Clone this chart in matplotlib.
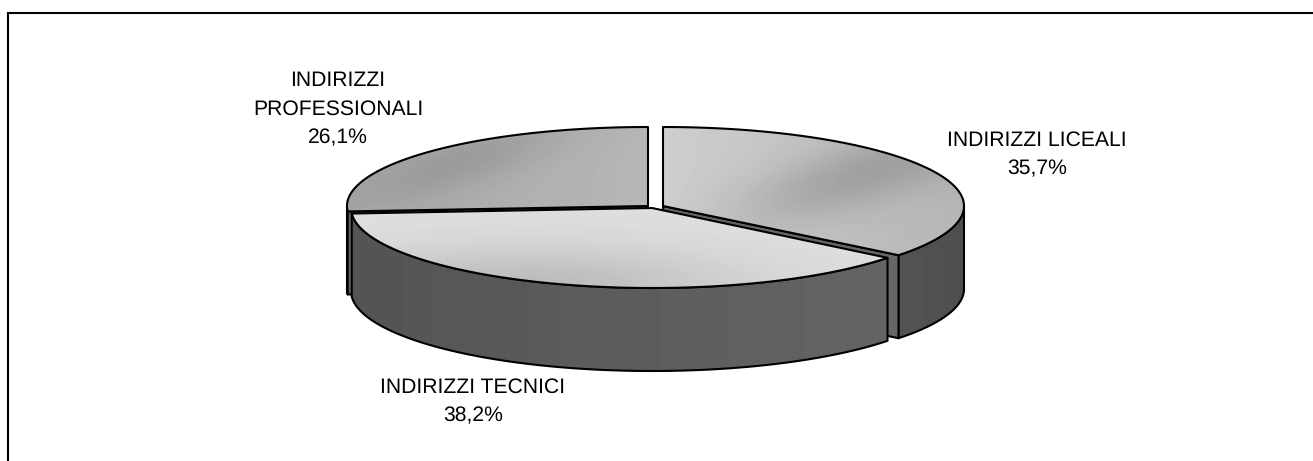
import numpy as np
import matplotlib
matplotlib.use("Agg")
import matplotlib.pyplot as plt
from matplotlib.patches import Polygon

# Dati
labels = ["INDIRIZZI LICEALI", "INDIRIZZI TECNICI", "INDIRIZZI\nPROFESSIONALI"]
shares = [35.7, 38.2, 26.1]

plt.rcParams["font.family"] = ["Liberation Sans", "DejaVu Sans"]
plt.rcParams["text.hinting"] = "no_hinting"

W, H = 1313, 461
fig = plt.figure(figsize=(W / 100, H / 100), dpi=100, facecolor="white")
ax = fig.add_axes([0, 0, 1, 1])
ax.set_xlim(0, W)
ax.set_ylim(H, 0)
ax.axis("off")

# Cornice: solo sinistra e alto
ax.plot([8, 8, W], [H, 13, 13], color="black", lw=1.5, solid_joinstyle="miter", zorder=1)

A, DEPTH = 301, 83
LW = 1.5

# angoli delle fette, in senso orario dall'alto
edges = 90 - np.cumsum([0] + shares) * 3.6
t_lic = edges[0:2]
t_tec = edges[1:3]
t_pro = edges[2:4]

yy, xx = np.mgrid[100:380, 330:980]


def arc(cx, cy, b, t0, t1, n=200):
    t = np.radians(np.linspace(t0, t1, n))
    return np.column_stack([cx + A * np.cos(t), cy - b * np.sin(t)])


def fill(verts, img, z):
    patch = Polygon(verts, closed=True, fc="none", ec="black", lw=LW, joinstyle="round", zorder=z + 0.5)
    ax.add_patch(patch)
    im = ax.imshow(img, extent=(330, 980, 380, 100), cmap="gray", vmin=0, vmax=255,
                   aspect="auto", interpolation="bilinear", zorder=z)
    im.set_clip_path(patch)
    ax.set_xlim(0, W)
    ax.set_ylim(H, 0)


def wedge_top(cx, cy, b, t0, t1):
    return np.vstack([[cx, cy], arc(cx, cy, b, t0, t1)])


def wall(cx, cy, b, t0, t1):
    top = arc(cx, cy, b, t0, t1)
    bot = top[::-1] + [0, DEPTH]
    return np.vstack([top, bot])


def cut(cx, cy, b, t):
    p = arc(cx, cy, b, t, t, 1)[0]
    return np.array([[cx, cy], p, p + [0, DEPTH], [cx, cy + DEPTH]])


def blob(x0, y0, su, sv):
    # macchia scura allungata, leggermente inclinata
    u = (xx - x0) * 0.95 - (yy - y0) * 0.3
    v = (xx - x0) * 0.3 + (yy - y0) * 0.95
    return np.exp(-(u / su) ** 2 - (v / sv) ** 2)


# sfumature delle facce superiori
g_lic = np.interp(xx, [663, 960], [206, 182]) - 30 * blob(860, 174, 130, 32)
g_pro = np.interp(xx, [350, 650], [168, 182]) - 18 * blob(465, 160, 110, 26)
g_tec = 222 - 34 * np.exp(-((xx - 530) / 210) ** 2 - ((yy - 285) / 38) ** 2)
g_side = np.interp(xx, [350, 600, 890], [84, 92, 100])
g_side_r = np.interp(xx, [897, 965], [84, 78])
g_cut = np.full(xx.shape, 102)

# Professionali (dietro)
c = (648, 206, 79)
fill(wall(*c, -180, t_pro[0]), g_side, 2)
fill(cut(*c, t_pro[0]), g_cut, 3)
fill(wedge_top(*c, t_pro[0], t_pro[1]), g_pro, 4)

# Liceali
c = (663, 206, 79)
fill(wall(*c, t_lic[1], 0), g_side_r, 5)
fill(cut(*c, t_lic[1]), g_cut, 6)
fill(wedge_top(*c, t_lic[0], t_lic[1]), g_lic, 7)

# Tecnici (davanti)
c = (652, 208, 80)
fill(wall(*c, t_tec[1], t_tec[0]), g_side, 8)
fill(wedge_top(*c, t_tec[0], t_tec[1]), g_tec, 9)

# Etichette
label_pos = [(1037, 155), (473, 402), (338, 109)]
for name, val, (x, y) in zip(labels, shares, label_pos):
    txt = name + "\n" + f"{val:.1f}%".replace(".", ",")
    ax.text(x, y, txt, ha="center", va="center", ma="center", fontsize=15.2,
            linespacing=1.6, color="black", zorder=12)

fig.savefig("out.png", dpi=100, facecolor="white")
